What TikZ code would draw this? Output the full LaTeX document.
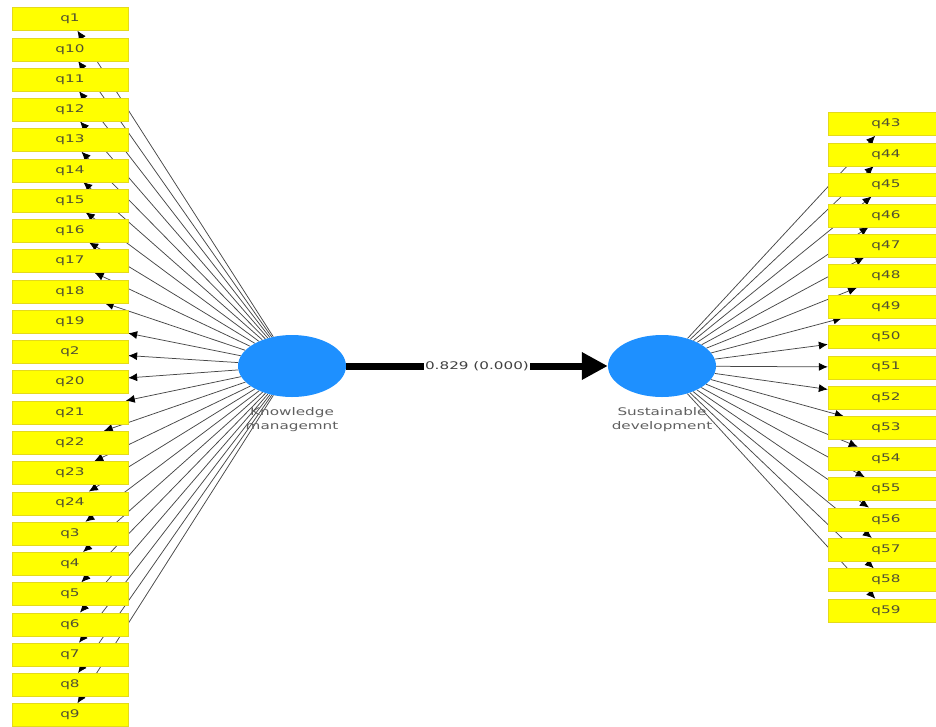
\documentclass[tikz,border=0pt]{standalone}
\usepackage{fontspec}
\setmainfont{DejaVu Sans}
\usepackage{graphicx}
\usetikzlibrary{arrows.meta,shapes.geometric,backgrounds}

\definecolor{lv_blue}{RGB}{30,144,255}
\definecolor{item_yellow}{RGB}{255,255,0}
\definecolor{item_text}{RGB}{80,80,50}
\definecolor{cap_gray}{RGB}{95,95,95}
\newcommand{\widetext}[1]{\scalebox{1.45}[1]{#1}}

\tikzset{
    item/.style={rectangle, fill=item_yellow, draw=yellow!88!black, line width=0.3pt,
        minimum width=116pt, minimum height=23pt, inner sep=0pt,
        font=\fontsize{10.5}{12}\selectfont, text=item_text},
    latent/.style={ellipse, fill=lv_blue, minimum width=108pt, minimum height=62pt, inner sep=0pt},
    loading/.style={draw=black!72, line width=0.75pt, -{Latex[length=9pt,width=8pt,black]}},
    latent_cap/.style={align=center, font=\fontsize{10.5}{14}\selectfont, text=cap_gray}
}

\begin{document}
\begin{tikzpicture}[x=1pt,y=-1pt]
    \useasboundingbox (0,0) rectangle (936,726);

    % latent variables
    \node[latent] (know_mgmt) at (292,366) {};
    \node[latent] (sust_dev) at (662,366) {};
    \node[latent_cap] (know_mgmt_cap) at (292,420) {\widetext{Knowledge}\\\widetext{managemnt}};
    \node[latent_cap] (sust_dev_cap) at (662,420) {\widetext{Sustainable}\\\widetext{development}};

    % indicators of knowledge management
    \foreach \q [count=\i from 0] in {1,10,11,12,13,14,15,16,17,18,19,2,20,21,22,23,24,3,4,5,6,7,8,9}
        \node[item] (q\q) at (70,{19+30.26*\i}) {\widetext{q\q}};

    % indicators of sustainable development
    \foreach \q [count=\i from 0] in {43,44,45,46,47,48,49,50,51,52,53,54,55,56,57,58,59}
        \node[item] (q\q) at (886,{124+30.4*\i}) {\widetext{q\q}};

    % outer loadings, behind the boxes
    \begin{pgfonlayer}{background}
        \foreach \q in {1,10,11,12,13,14,15,16,17,18,19,2,20,21,22,23,24,3,4,5,6,7,8,9}
            \draw[loading] (know_mgmt) -- (q\q);
        \foreach \q in {43,44,45,46,47,48,49,50,51,52,53,54,55,56,57,58,59}
            \draw[loading] (sust_dev) -- (q\q);
    \end{pgfonlayer}

    % path coefficient
    \draw[line width=7pt, -{Triangle[length=26pt,width=26pt]}] (know_mgmt) --
        node[fill=white, inner sep=1.5pt, font=\fontsize{10.5}{12}\selectfont, text=black!75] (path_coef)
        {\widetext{0.829 (0.000)}} (sust_dev);
\end{tikzpicture}
\end{document}
